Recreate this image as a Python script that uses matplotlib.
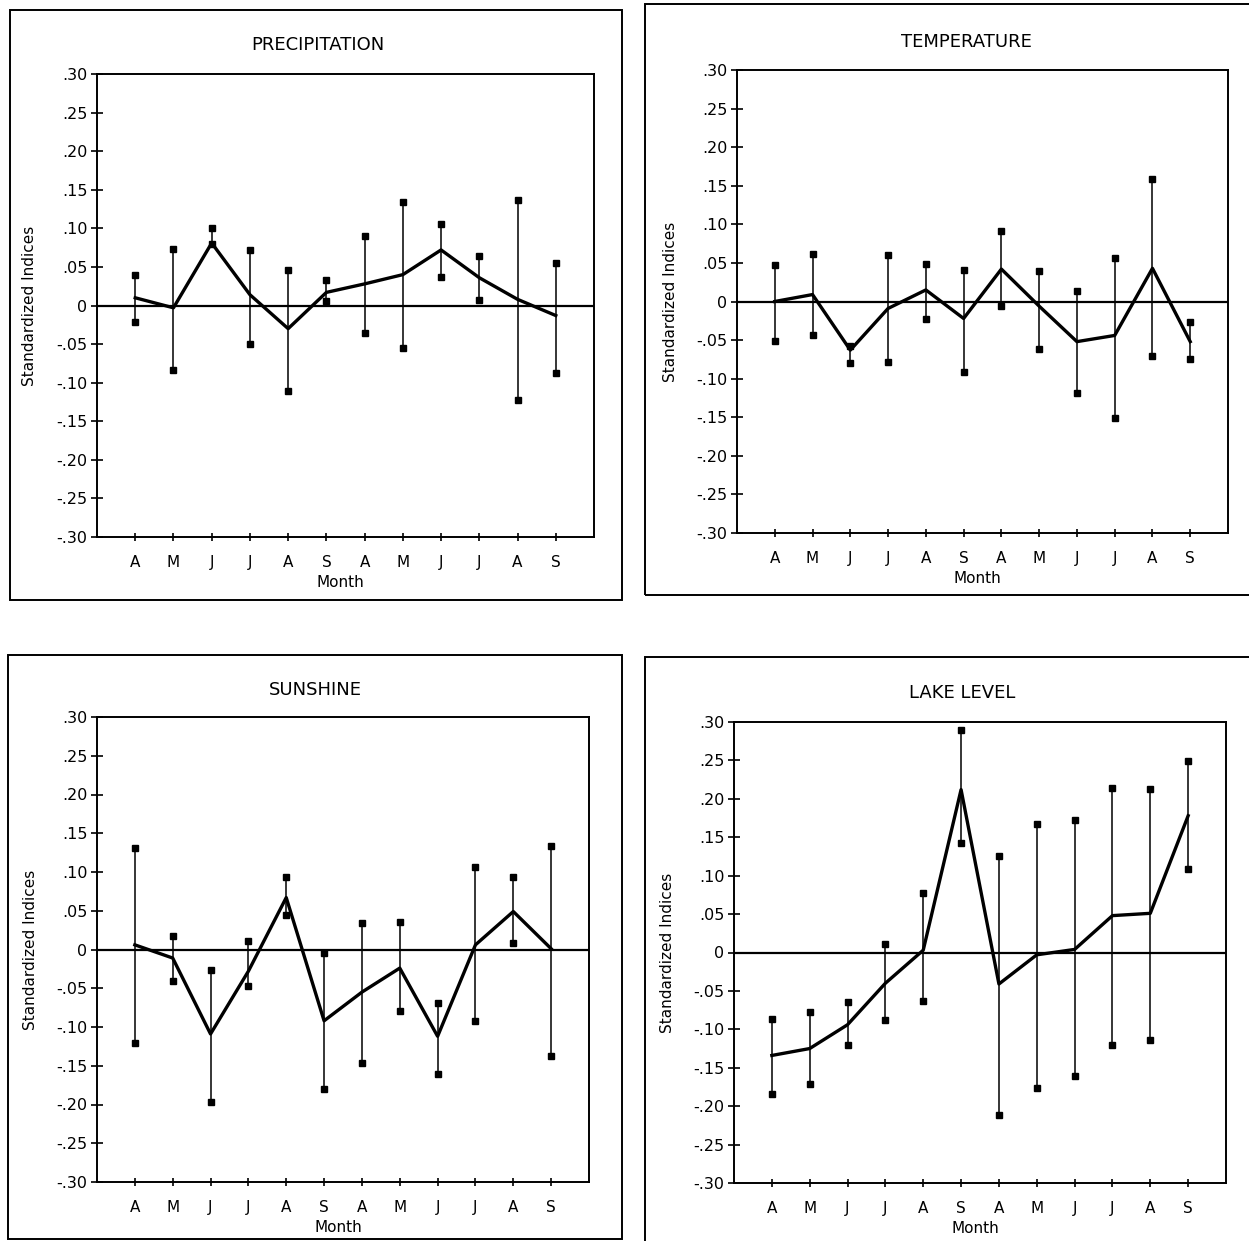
import numpy as np
import matplotlib
matplotlib.use('Agg')
import matplotlib.pyplot as plt
from matplotlib.patches import Rectangle

plt.rcParams['font.family'] = ['DejaVu Sans']

# Hónapok (két évad: április - szeptember)
months = ['A', 'M', 'J', 'J', 'A', 'S', 'A', 'M', 'J', 'J', 'A', 'S']

# Csapadék
precip_mean = [0.010, -0.003, 0.081, 0.014, -0.030, 0.017, 0.028, 0.040, 0.072, 0.036, 0.008, -0.013]
precip_upper = [0.039, 0.073, 0.100, 0.072, 0.046, 0.033, 0.090, 0.134, 0.105, 0.064, 0.137, 0.055]
precip_lower = [-0.022, -0.083, 0.080, -0.050, -0.111, 0.006, -0.035, -0.055, 0.037, 0.007, -0.123, -0.088]

# Hőmérséklet
temp_mean = [0.000, 0.009, -0.063, -0.009, 0.015, -0.022, 0.042, -0.006, -0.052, -0.044, 0.043, -0.052]
temp_upper = [0.047, 0.062, -0.058, 0.060, 0.048, 0.041, 0.091, 0.040, 0.014, 0.057, 0.159, -0.027]
temp_lower = [-0.051, -0.044, -0.080, -0.079, -0.023, -0.091, -0.006, -0.062, -0.118, -0.151, -0.070, -0.075]

# Napsütés
sun_mean = [0.006, -0.011, -0.109, -0.028, 0.067, -0.092, -0.055, -0.024, -0.112, 0.006, 0.049, 0.001]
sun_upper = [0.131, 0.018, -0.027, 0.011, 0.093, -0.004, 0.034, 0.036, -0.069, 0.107, 0.093, 0.133]
sun_lower = [-0.120, -0.041, -0.197, -0.047, 0.045, -0.180, -0.146, -0.079, -0.161, -0.092, 0.009, -0.137]

# Tószint
lake_mean = [-0.134, -0.125, -0.094, -0.040, 0.003, 0.212, -0.041, -0.003, 0.004, 0.048, 0.051, 0.178]
lake_upper = [-0.086, -0.078, -0.065, 0.011, 0.078, 0.290, 0.126, 0.167, 0.172, 0.214, 0.213, 0.249]
lake_lower = [-0.184, -0.171, -0.121, -0.088, -0.063, 0.142, -0.211, -0.177, -0.161, -0.120, -0.114, 0.109]

yticks = np.round(np.arange(-0.30, 0.301, 0.05), 2)
ytick_labels = ['-.30', '-.25', '-.20', '-.15', '-.10', '-.05', '0',
                '.05', '.10', '.15', '.20', '.25', '.30']

W, H = 1249, 1241

def fx(px):
    return px / W

def fy(py):
    return 1 - py / H

# panelek: cím, adatok, tengely (bal, fent, jobb, lent) pixelben, keret pixelben
panels = [
    ('PRECIPITATION', precip_mean, precip_upper, precip_lower,
     (97, 74, 594, 537), (10, 10, 622, 600), (0.445, 1.063)),
    ('TEMPERATURE', temp_mean, temp_upper, temp_lower,
     (737, 70, 1228, 533), (645, 4, 1260, 595), (0.468, 1.060)),
    ('SUNSHINE', sun_mean, sun_upper, sun_lower,
     (97, 717, 589, 1182), (8, 655, 622, 1239), (0.443, 1.058)),
    ('LAKE LEVEL', lake_mean, lake_upper, lake_lower,
     (734, 722, 1226, 1183), (645, 657, 1260, 1260), (0.463, 1.063)),
]

fig = plt.figure(figsize=(12.49, 12.41), dpi=100)
x = np.arange(1, len(months) + 1)

for title, mean, upper, lower, box, frame, tpos in panels:
    l, t, r, b = box
    ax = fig.add_axes([fx(l), fy(b), fx(r) - fx(l), fy(t) - fy(b)])

    ax.axhline(0, color='black', lw=1.6, zorder=2)
    ax.vlines(x, lower, upper, color='black', lw=1.1, zorder=2)
    ax.plot(x, upper, 's', color='black', ms=4.8, zorder=3)
    ax.plot(x, lower, 's', color='black', ms=4.8, zorder=3)
    ax.plot(x, mean, color='black', lw=2.4, zorder=4)

    ax.set_xlim(0, 13)
    ax.set_ylim(-0.30, 0.30)
    ax.set_yticks(yticks)
    ax.set_yticklabels(ytick_labels)
    ax.set_xticks(x)
    ax.set_xticklabels(months)
    ax.tick_params(axis='y', direction='inout', length=8, width=1.2, pad=3, labelsize=11.5)
    ax.tick_params(axis='x', direction='inout', length=6, width=1.2, pad=10, labelsize=11)
    for s in ax.spines.values():
        s.set_linewidth(1.4)

    ax.set_xlabel('Month', fontsize=11)
    ax.xaxis.set_label_coords(0.49, -0.082)
    ax.xaxis.label.set_va('top')
    ax.set_ylabel('Standardized Indices', fontsize=11)
    ax.yaxis.set_label_coords(-0.12, 0.5)
    ax.text(tpos[0], tpos[1], title, transform=ax.transAxes, ha='center',
            va='center', fontsize=13)

    # keret a panel körül
    fl, ft, fr, fb = frame
    fig.add_artist(Rectangle((fx(fl), fy(fb)), fx(fr) - fx(fl), fy(ft) - fy(fb),
                             transform=fig.transFigure, fill=False,
                             edgecolor='black', lw=1.4))

fig.savefig('out.png', dpi=100)
